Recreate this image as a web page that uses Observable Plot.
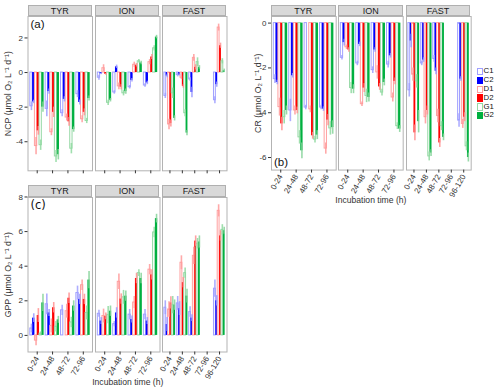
<!DOCTYPE html>
<html><head><meta charset="utf-8">
<script src="https://cdn.jsdelivr.net/npm/d3@7"></script>
<script src="https://cdn.jsdelivr.net/npm/@observablehq/plot@0.6"></script>
<style>
body{margin:0;background:#fff;font-family:"Liberation Sans",Arial,sans-serif;}
#root{position:relative;width:500px;height:388px;overflow:hidden;background:#fff;}
.strip{position:absolute;background:#d9d9d9;border:1px solid #b0b0b0;box-sizing:border-box;font-size:9px;line-height:10px;text-align:center;color:#1a1a1a;}
.lab{position:absolute;font-size:11.5px;color:#111;white-space:nowrap;}
.lg{position:absolute;box-sizing:border-box;}
.lgt{position:absolute;font-size:7.8px;color:#111;line-height:8.6px;}
</style></head>
<body><div id="root"></div>
<script>
const series = ["C1","C2","D1","D2","G1","G2"];
const experiments = ["TYR","ION","FAST"];
const timesShort = ["0-24","24-48","48-72","72-96"];
const timesLong = ["0-24","24-48","48-72","72-96","96-120"];
const xTitle = "Incubation time (h)";
const yTitles = ["NCP (μmol O₂ L⁻¹ d⁻¹)", "CR (μmol O₂ L⁻¹ d⁻¹)", "GPP (μmol O₂ L⁻¹ d⁻¹)"];
const panelTags = ["(a)", "(b)", "(c)"];

// NCP (a): rows = time, columns = C1,C2,D1,D2,G1,G2
const ncpTYR = [[-1.95,-1.70,-4.25,-3.37,-4.20,-2.00],[-2.10,-1.10,-3.45,-2.30,-4.85,-4.75],[-2.35,-1.55,-2.60,-2.85,-4.40,-3.30],[-1.25,-1.73,-2.70,-2.30,-2.80,-1.50]];
const ncpTYRsd = [[0.25,0.10,0.50,0.25,0.30,0.30],[0.45,0.15,0.20,0.30,0.35,0.30],[0.20,0.15,0.20,0.25,0.30,0.15],[0.20,0.15,0.20,0.20,0.15,0.15]];
const ncpION = [[-0.30,-0.07,0.25,-0.10,-1.75,-1.60],[-1.15,0.33,-0.80,-0.85,-1.20,-1.10],[-0.85,-0.45,0.45,0.42,0.65,0.55],[-0.75,-0.60,0.60,0.90,1.40,2.05]];
const ncpIONsd = [[0.15,0.05,0.20,0.05,0.15,0.10],[0.10,0.10,0.20,0.15,0.15,0.15],[0.10,0.10,0.15,0.10,0.10,0.10],[0.10,0.10,0.15,0.15,0.15,0.10]];
const ncpFAST = [[-1.35,-0.20,-3.00,-2.95,-1.20,-2.65],[-0.15,-0.15,-0.30,-0.80,-2.35,-3.50],[-0.40,-1.15,0.85,0.30,0.60,0.30],[0,0,0,0,0,0],[-1.60,-0.70,2.60,1.55,0.65,0.10]];
const ncpFASTsd = [[0.15,0.10,0.30,0.20,0.30,0.15],[0.10,0.05,0.10,0.10,0.20,0.15],[0.10,0.30,0.20,0.15,0.25,0.10],[0,0,0,0,0,0],[0.20,0.15,0.20,0.15,0.15,0.10]];

// CR (b)
const crTYR = [[-2.50,-2.65,-3.75,-4.50,-4.20,-3.90],[-3.90,-2.35,-3.90,-3.90,-5.10,-5.70],[-3.77,null,-3.85,-5.03,-5.20,-5.00],[-3.77,-3.84,-5.60,-4.33,-4.70,-4.66]];
const crTYRsd = [[0.20,0.10,0.40,0.30,0.30,0.20],[0.50,0.10,0.20,0.15,0.30,0.35],[0.10,0,0.15,0.15,0.15,0.20],[0.10,0.10,0.25,0.25,0.30,0.30]];
const crION = [[-1.55,-0.87,-1.08,-1.20,-2.90,-2.95],[-1.80,-0.95,-3.62,-2.90,-3.25,-3.32],[-2.10,-1.20,-2.20,-2.85,-3.10,-2.65],[-1.85,-1.46,-3.32,-2.60,-4.60,-4.73]];
const crIONsd = [[0.10,0.15,0.10,0.10,0.25,0.20],[0.10,0.10,0.10,0.20,0.30,0.20],[0.15,0.10,0.30,0.15,0.15,0.15],[0.15,0.10,0.20,0.15,0.15,0.15]];
const crFAST = [[-3.00,-0.80,-2.30,-4.90,-2.60,-4.40],[-1.80,-1.65,-4.20,-3.90,-5.95,-5.80],[-1.60,-2.15,-4.15,-5.35,-4.60,-5.10],[0,0,0,0,0,0],[-4.35,-2.50,-4.50,-4.20,-5.50,-6.00]];
const crFASTsd = [[0.30,0.30,0.30,0.35,0.30,0.50],[0.10,0.10,0.30,0.20,0.20,0.15],[0.15,0.15,0.30,0.20,0.20,0.15],[0,0,0,0,0,0],[0.30,0.10,0.20,0.20,0.20,0.20]];

// GPP (c)
const gppTYR = [[0.40,1.00,-0.30,1.15,0.10,1.88],[1.80,1.30,0.55,1.60,0.50,0.90],[1.45,null,1.40,2.15,0.75,1.70],[2.45,2.08,2.90,2.08,1.30,3.20]];
const gppTYRsd = [[0.25,0.25,0.30,0.40,0.10,0.50],[0.60,0.20,0.40,0.30,0.30,0.20],[0.30,0,0.40,0.30,0.30,0.30],[0.40,0.30,0.30,0.30,0.40,0.50]];
const gppION = [[1.25,0.83,1.12,1.10,1.17,1.40],[0.65,1.30,3.10,2.10,2.20,2.27],[1.20,0.92,1.90,3.29,3.60,3.29],[1.20,0.83,3.80,3.50,5.95,6.75]];
const gppIONsd = [[0.20,0.20,0.40,0.20,0.50,0.30],[0.15,0.30,0.45,0.30,0.40,0.30],[0.30,0.20,0.35,0.30,0.20,0.30],[0.30,0.20,0.30,0.30,0.30,0.25]];
const gppFAST = [[1.60,0.63,1.50,1.88,1.75,1.75],[1.85,1.55,4.20,3.05,3.60,2.27],[1.35,1.00,4.60,5.45,5.30,5.40],[0,0,0,0,0,0],[2.70,2.00,7.20,5.75,6.10,6.05]];
const gppFASTsd = [[0.40,0.40,0.45,0.35,0.50,0.30],[0.40,0.40,0.40,0.30,0.30,0.40],[0.30,0.20,0.50,0.30,0.30,0.35],[0,0,0,0,0,0],[0.50,0.30,0.35,0.30,0.30,0.20]];

const fillOf = {C1:"white", C2:"#0000ff", D1:"white", D2:"#ff0000", G1:"white", G2:"#00b040"};
const strokeOf = {C1:"#a0a0ff", C2:"none", D1:"#ffa0a0", D2:"none", G1:"#96d9a6", G2:"none"};
const errOf = {C1:"#a0a0ff", C2:"#9a9aff", D1:"#ff9a9a", D2:"#ff9090", G1:"#8fd9a0", G2:"#86d49a"};

function tidy(means, sds, times) {
  const out = [];
  means.forEach((row, ti) => row.forEach((v, si) => {
    if (v == null) return;
    out.push({time: times[ti], ti, series: series[si], si, value: v, sd: sds[ti][si]});
  }));
  return out;
}

const root = document.getElementById("root");
function put(el, left, top) { el.style.position = "absolute"; el.style.left = left + "px"; el.style.top = top + "px"; root.appendChild(el); }

const rowsCfg = [
  {top:15.7, H:154.3, yDom:[-5.68,3.24], yTicks:[-4,-2,0,2], lefts:[27.5,94.5,161.7], W:64.5, svgLeft0:0, mB:5, labels:false,
   data:[[ncpTYR,ncpTYRsd,timesShort],[ncpION,ncpIONsd,timesShort],[ncpFAST,ncpFASTsd,timesLong]]},
  {top:15.7, H:153.6, yDom:[-6.56,0.295], yTicks:[-6,-4,-2,0], lefts:[271,338.3,405.6], W:64.7, svgLeft0:250, mB:37, labels:true,
   data:[[crTYR,crTYRsd,timesShort],[crION,crIONsd,timesShort],[crFAST,crFASTsd,timesLong]]},
  {top:196.5, H:154.5, yDom:[-0.958,7.97], yTicks:[0,2,4,6,8], lefts:[27.5,94.5,161.7], W:64.5, svgLeft0:0, mB:37, labels:true,
   data:[[gppTYR,gppTYRsd,timesShort],[gppION,gppIONsd,timesShort],[gppFAST,gppFASTsd,timesLong]]}
];

rowsCfg.forEach((cfg, r) => {
  cfg.data.forEach(([m, s, times], f) => {
    const rows = tidy(m, s, times);
    const n = times.length;
    const first = f === 0;
    const mL = first ? cfg.lefts[0] - cfg.svgLeft0 : 0;
    const marks = [
      Plot.frame({stroke: "#b3b3b3"}),
      Plot.rect(rows, {
        x1: d => d.ti + 1 - 0.45 + d.si * 0.15,
        x2: d => d.ti + 1 - 0.45 + (d.si + 1) * 0.15,
        y1: d => 0, y2: "value",
        fill: d => fillOf[d.series], stroke: d => strokeOf[d.series], strokeWidth: 1
      }),
      Plot.ruleX(rows, {
        x: d => d.ti + 1 - 0.45 + (d.si + 0.5) * 0.15,
        y1: d => d.value - d.sd, y2: d => d.value + d.sd,
        stroke: d => errOf[d.series], strokeWidth: 1.6, strokeOpacity: 0.85
      }),
      Plot.axisX({
        ticks: d3.range(1, n + 1), tickSize: 3, tickPadding: 2,
        tickFormat: cfg.labels ? (i => times[i - 1]) : (() => ""),
        tickRotate: cfg.labels ? -60 : 0,
        label: null
      })
    ];
    if (cfg.labels && f === 1) marks.push(Plot.axisX({
      ticks: [], label: xTitle, labelArrow: "none", labelAnchor: "center", labelOffset: 33, fontSize: 8.6
    }));
    if (first) {
      marks.push(Plot.axisY({
        ticks: cfg.yTicks, tickFormat: d => String(d), tickSize: 3, tickPadding: 2, label: null
      }));
      marks.push(Plot.axisY({
        ticks: [], label: yTitles[r], labelArrow: "none", labelAnchor: "center", labelOffset: mL - 4.5, fontSize: 8.8
      }));
    }
    const chart = Plot.plot({
      width: mL + cfg.W, height: cfg.H + cfg.mB,
      marginLeft: mL, marginRight: 0, marginTop: 0, marginBottom: cfg.mB,
      style: {fontFamily: "Liberation Sans, Arial, sans-serif", fontSize: "8px", color: "#333", background: "transparent", overflow: "visible"},
      x: {domain: [0.4, n + 0.6]},
      y: first ? {domain: cfg.yDom} : {domain: cfg.yDom, axis: null},
      marks
    });
    chart.style.maxWidth = "none";
    put(chart, first ? cfg.svgLeft0 : cfg.lefts[f], cfg.top);
    const strip = document.createElement("div");
    strip.className = "strip";
    strip.textContent = experiments[f];
    strip.style.width = cfg.W + "px";
    strip.style.height = "11.5px";
    put(strip, cfg.lefts[f], cfg.top - 11.2);
  });
});

// panel tags
const tagPos = [[30.5, 17.5, "Liberation Sans"], [274, 156, "Liberation Sans"], [30.5, 198, "DejaVu Sans"]];
panelTags.forEach((t, i) => {
  const d = document.createElement("div");
  d.className = "lab"; d.textContent = t; d.style.fontFamily = tagPos[i][2];
  put(d, tagPos[i][0], tagPos[i][1]);
});

// legend
series.forEach((s, i) => {
  const b = document.createElement("div");
  b.className = "lg";
  b.style.width = "6px"; b.style.height = "7.4px";
  b.style.background = fillOf[s];
  if (strokeOf[s] !== "none") b.style.border = "1.2px solid " + strokeOf[s];
  put(b, 476.5, 68 + i * 8.8);
  const t = document.createElement("div");
  t.className = "lgt"; t.textContent = s;
  put(t, 483.5, 67.4 + i * 8.8);
});
</script>
</body></html>
